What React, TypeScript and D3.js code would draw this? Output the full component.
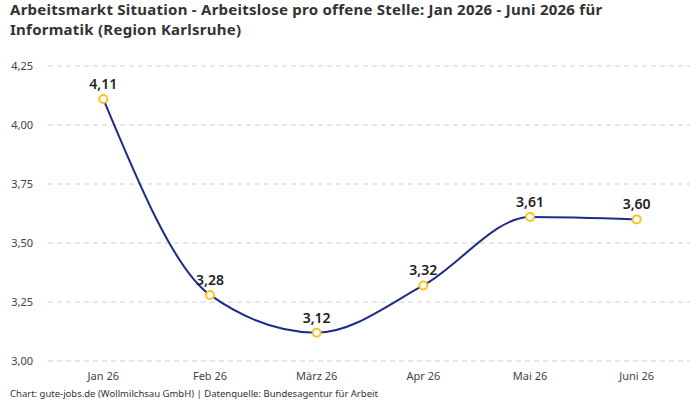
import React, { useRef, useEffect } from 'react';
import * as d3 from 'd3';

const months = ['Jan 26', 'Feb 26', 'März 26', 'Apr 26', 'Mai 26', 'Juni 26'];
const ratio = [4.11, 3.28, 3.12, 3.32, 3.61, 3.6];
const yTicks = [3.0, 3.25, 3.5, 3.75, 4.0, 4.25];

const titleLines = [
  'Arbeitsmarkt Situation - Arbeitslose pro offene Stelle: Jan 2026 - Juni 2026 für',
  'Informatik (Region Karlsruhe)',
];
const source = 'Chart: gute-jobs.de (Wollmilchsau GmbH) | Datenquelle: Bundesagentur für Arbeit';

const fmt = (v: number) => v.toFixed(2).replace('.', ',');

const App: React.FC = () => {
  const svgRef = useRef<SVGSVGElement | null>(null);

  useEffect(() => {
    if (!svgRef.current) return;
    const width = 700;
    const height = 400;
    const font = '"Noto Sans", Roboto, sans-serif';

    const svg = d3.select(svgRef.current);
    svg.selectAll('*').remove();
    svg.attr('width', width).attr('height', height).style('font-family', font);

    svg.append('rect').attr('width', width).attr('height', height).attr('fill', '#fff');

    // title, two lines
    svg
      .selectAll('text.title')
      .data(titleLines)
      .enter()
      .append('text')
      .attr('class', 'title')
      .attr('x', 10)
      .attr('y', (_, i) => 15 + i * 20)
      .attr('fill', '#333')
      .style('font-size', '15px')
      .style('letter-spacing', '0.25px')
      .style('font-weight', 700)
      .text(d => d);

    const x = d3.scalePoint<string>().domain(months).range([50, 690]).padding(0.5);
    const y = d3.scaleLinear().domain([3.0, 4.25]).range([361, 66]);

    // grid
    svg
      .append('g')
      .selectAll('line')
      .data(yTicks)
      .enter()
      .append('line')
      .attr('x1', 48)
      .attr('x2', 690)
      .attr('y1', d => y(d))
      .attr('y2', d => y(d))
      .attr('stroke', '#cfcfcf')
      .attr('stroke-dasharray', '5,4');

    // y labels
    svg
      .append('g')
      .selectAll('text')
      .data(yTicks)
      .enter()
      .append('text')
      .attr('x', 33)
      .attr('y', d => y(d) + 4)
      .attr('text-anchor', 'end')
      .attr('fill', '#444')
      .style('font-size', '11px')
      .text(d => fmt(d));

    // x labels
    svg
      .append('g')
      .selectAll('text')
      .data(months)
      .enter()
      .append('text')
      .attr('x', d => x(d)!)
      .attr('y', 380)
      .attr('text-anchor', 'middle')
      .attr('fill', '#444')
      .style('font-size', '11px')
      .text(d => d);

    const pts = months.map((m, i) => ({ m, v: ratio[i] }));

    const line = d3
      .line<{ m: string; v: number }>()
      .x(d => x(d.m)!)
      .y(d => y(d.v))
      .curve(d3.curveMonotoneX);

    svg
      .append('path')
      .datum(pts)
      .attr('d', line)
      .attr('fill', 'none')
      .attr('stroke', '#1d2b8a')
      .attr('stroke-width', 2);

    svg
      .append('g')
      .selectAll('circle')
      .data(pts)
      .enter()
      .append('circle')
      .attr('cx', d => x(d.m)!)
      .attr('cy', d => y(d.v))
      .attr('r', 4)
      .attr('fill', '#fff')
      .attr('stroke', '#f7c51e')
      .attr('stroke-width', 2);

    svg
      .append('g')
      .selectAll('text')
      .data(pts)
      .enter()
      .append('text')
      .attr('x', d => x(d.m)!)
      .attr('y', d => y(d.v) - 10)
      .attr('text-anchor', 'middle')
      .attr('fill', '#222')
      .style('font-size', '14px')
      .style('font-weight', 600)
      .text(d => fmt(d.v));

    svg
      .append('text')
      .attr('x', 10)
      .attr('y', 397)
      .attr('fill', '#333')
      .style('font-size', '9.5px')
      .text(source);
  }, []);

  return (
    <div style={{ position: 'absolute', left: 0, top: 0 }}>
      <svg ref={svgRef}></svg>
    </div>
  );
};

export default App;
